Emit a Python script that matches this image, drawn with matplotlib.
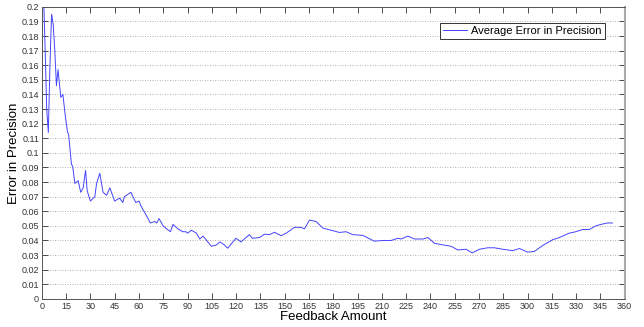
import numpy as np
import matplotlib
matplotlib.use('Agg')
import matplotlib.pyplot as plt
from matplotlib.ticker import FuncFormatter

plt.rcParams['font.family'] = ['Liberation Sans', 'DejaVu Sans']

# feedback amount vs. average error
feedback = [1, 2, 3, 4, 5, 6, 7, 8, 9, 10, 11.7, 13, 14.5, 15.9, 16.5, 18.3,
            19, 20.4, 22.4, 24, 25.5, 27, 28, 30, 32.7, 33.8, 35.8, 37.8, 40,
            42, 45, 48, 50, 51, 55, 58, 60, 61.5, 64.6, 67, 69.8, 71, 72.4,
            74.9, 77, 79.4, 81, 84, 87, 89, 90, 92.4, 95.5, 97.5, 99.6, 104.7,
            107.8, 110, 112.7, 114.8, 119.9, 123, 128.2, 130, 134.4, 137.5,
            140.6, 143.7, 147.8, 150.9, 156, 160, 162.2, 165.3, 169.4, 173.5,
            178.7, 183.8, 187.9, 192, 198.2, 205.4, 210.6, 215.7, 219.8, 222,
            226, 230.2, 235.4, 238.5, 242.6, 247.7, 252.8, 257, 262, 265.8,
            270.3, 275.4, 279.5, 284.7, 290.8, 295, 300.1, 304.2, 309.3, 315.5,
            319.6, 325.7, 329.8, 334, 338.1, 342.2, 345.3, 349.4, 352.5]
error = [0.21, 0.172, 0.13, 0.114, 0.16, 0.195, 0.188, 0.17, 0.146, 0.157,
         0.138, 0.14, 0.125, 0.114, 0.113, 0.092, 0.091, 0.079, 0.081, 0.073,
         0.076, 0.088, 0.074, 0.067, 0.07, 0.079, 0.086, 0.073, 0.071, 0.076,
         0.067, 0.069, 0.066, 0.07, 0.073, 0.066, 0.067, 0.063, 0.057, 0.052,
         0.053, 0.052, 0.055, 0.05, 0.048, 0.046, 0.051, 0.048, 0.046, 0.046,
         0.045, 0.047, 0.045, 0.041, 0.043, 0.036, 0.037, 0.039, 0.037, 0.0347,
         0.0415, 0.039, 0.044, 0.0415, 0.042, 0.0443, 0.044, 0.0456, 0.0433,
         0.045, 0.049, 0.049, 0.048, 0.054, 0.053, 0.0485, 0.047, 0.0455,
         0.046, 0.044, 0.0435, 0.0395, 0.04, 0.04, 0.0415, 0.041, 0.043, 0.041,
         0.041, 0.042, 0.038, 0.037, 0.036, 0.0335, 0.034, 0.0315, 0.034,
         0.035, 0.035, 0.034, 0.033, 0.0345, 0.032, 0.0325, 0.0365, 0.0405,
         0.042, 0.045, 0.046, 0.0475, 0.0475, 0.05, 0.051, 0.052, 0.052]

xticks = list(range(0, 361, 15))
yticks = [i / 100 for i in range(0, 21)]

fig = plt.figure(figsize=(6.44, 3.27), dpi=100)
ax = fig.add_axes([0.065, 0.086, 0.905, 0.893])

ax.plot(feedback, error, color='#4444ff', lw=0.7, label='Average Error in Precision')

ax.set_xlim(0, 360)
ax.set_ylim(0, 0.2)
ax.set_xticks(xticks)
ax.set_yticks(yticks)
ax.yaxis.set_major_formatter(FuncFormatter(lambda v, p: '%g' % round(v, 2)))
ax.tick_params(direction='in', top=True, right=True, labelsize=6.5,
               length=4, width=0.6, colors='#333333', pad=2)
ax.yaxis.grid(True, linestyle=(0, (1, 2)), color='#999999', lw=0.6)
for s in ax.spines.values():
    s.set_color('#555555')
    s.set_linewidth(0.7)
ax.spines['right'].set_color('#aaaaaa')
ax.spines['right'].set_linewidth(1.5)

ax.set_xlabel('Feedback Amount', fontsize=9.5, labelpad=0)
ax.set_ylabel('Error in Precision', fontsize=9.5, labelpad=1)

leg = ax.legend(loc='upper right', fontsize=8, fancybox=False, framealpha=1,
                borderpad=0.3, handlelength=2.2, handletextpad=0.3,
                bbox_to_anchor=(0.975, 0.965))
leg.get_frame().set_edgecolor('#333333')
leg.get_frame().set_linewidth(0.7)

fig.savefig('out.png', dpi=100)
